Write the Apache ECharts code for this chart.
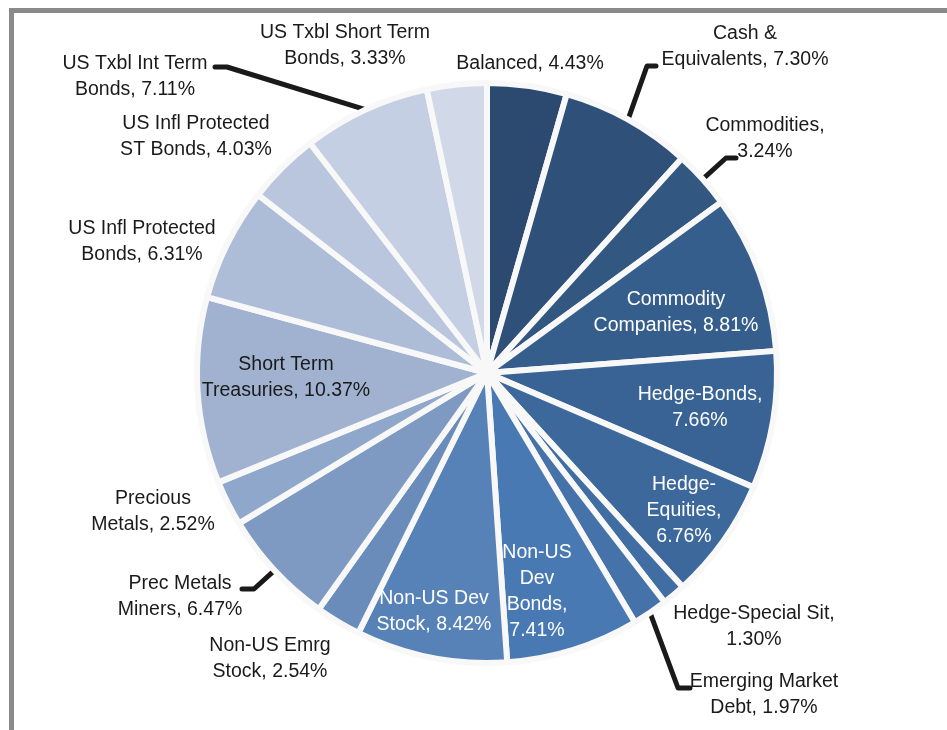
<!DOCTYPE html>
<html>
<head>
    <meta charset="UTF-8">
    <script src="https://cdn.jsdelivr.net/npm/echarts@6/dist/echarts.min.js"></script>
    <title>Allocation</title>
    <style>
        html, body { margin: 0; padding: 0; background: #fff; }
        #frame { position: absolute; left: 9px; top: 8px; width: 1000px; height: 800px;
                 border-left: 5px solid #8a8a8a; border-top: 5px solid #8a8a8a; }
        #main { position: absolute; left: 0; top: 0; width: 947px; height: 730px; }
    </style>
</head>
<body>
<div id="frame"></div>
<div id="main"></div>
<script>
    // slice names, clockwise from 12 o'clock
    var names = ['Balanced', 'Cash & Equivalents', 'Commodities', 'Commodity Companies', 'Hedge-Bonds',
        'Hedge-Equities', 'Hedge-Special Sit', 'Emerging Market Debt', 'Non-US Dev Bonds', 'Non-US Dev Stock',
        'Non-US Emrg Stock', 'Prec Metals Miners', 'Precious Metals', 'Short Term Treasuries',
        'US Infl Protected Bonds', 'US Infl Protected ST Bonds', 'US Txbl Int Term Bonds', 'US Txbl Short Term Bonds'];
    var values = [4.43, 7.30, 3.24, 8.81, 7.66, 6.76, 1.30, 1.97, 7.41, 8.42, 2.54, 6.47, 2.52, 10.37, 6.31, 4.03, 7.11, 3.33];
    // label text with line breaks, {v} becomes the value
    var labelTexts = ['Balanced, {v}', 'Cash &\nEquivalents, {v}', 'Commodities,\n{v}', 'Commodity\nCompanies, {v}',
        'Hedge-Bonds,\n{v}', 'Hedge-\nEquities,\n{v}', 'Hedge-Special Sit,\n{v}', 'Emerging Market\nDebt, {v}',
        'Non-US\nDev\nBonds,\n{v}', 'Non-US Dev\nStock, {v}', 'Non-US Emrg\nStock, {v}', 'Prec Metals\nMiners, {v}',
        'Precious\nMetals, {v}', 'Short Term\nTreasuries, {v}', 'US Infl Protected\nBonds, {v}',
        'US Infl Protected\nST Bonds, {v}', 'US Txbl Int Term\nBonds, {v}', 'US Txbl Short Term\nBonds, {v}'];
    var colors = ['#2c4a6f', '#2f5179', '#325882', '#365e8c', '#396394', '#3d689b', '#406da2', '#4472a9',
        '#4879b2', '#5682b7', '#6a8cbb', '#7e9ac3', '#8fa7ca', '#a0b2d0', '#aebdd7', '#b9c6dd', '#c5cfe3', '#d1d8e7'];

    // label centres
    var labelPos = [[530, 64], [745, 47], [765, 139], [676, 313], [700, 408], [684, 511], [754, 627], [764, 695],
        [537, 592], [434, 612], [270, 659], [180, 597], [153, 512], [286, 378], [142, 242], [196, 137], [135, 77], [345, 46]];
    var darkText = [true, true, true, false, false, false, true, true, false, false, true, true, true, true, true, true, true, true];
    // leader lines: [dx, dy] of line end from label centre, horizontal run length
    var guides = {1: [-89, 19, -9], 2: [-29, 19, -10], 7: [-74, -7, -12], 11: [62, -8, 12], 16: [80, -10, 12]};

    var data = names.map(function (n, i) {
        return {
            name: n,
            value: values[i],
            itemStyle: {color: colors[i]},
            label: {color: darkText[i] ? '#1a1a1a' : '#ffffff'},
            labelLine: {show: !!guides[i]}
        };
    });

    var chart = echarts.init(document.getElementById('main'));
    chart.setOption({
        animation: false,
        series: [{
            type: 'pie',
            center: [487, 373],
            radius: 290,
            startAngle: 90,
            clockwise: true,
            data: data,
            itemStyle: {borderColor: '#f8f8f8', borderWidth: 6},
            label: {
                show: true,
                position: 'outside',
                overflow: 'none',
                fontFamily: 'Liberation Sans, Arial, sans-serif',
                fontSize: 19.5,
                lineHeight: 26,
                align: 'center',
                formatter: function (p) {
                    return labelTexts[p.dataIndex].replace('{v}', p.value.toFixed(2) + '%');
                }
            },
            labelLine: {
                length: 10,
                length2: 10,
                lineStyle: {color: '#1a1a1a', width: 5, cap: 'round', join: 'round'}
            },
            labelLayout: function (p) {
                var i = p.dataIndex;
                var res = {x: labelPos[i][0], y: labelPos[i][1], align: 'center', verticalAlign: 'middle'};
                var g = guides[i];
                if (g && p.labelLinePoints) {
                    var ex = labelPos[i][0] + g[0], ey = labelPos[i][1] + g[1];
                    res.labelLinePoints = [p.labelLinePoints[0], [ex + g[2], ey], [ex, ey]];
                }
                return res;
            }
        }]
    });
</script>
</body>
</html>
